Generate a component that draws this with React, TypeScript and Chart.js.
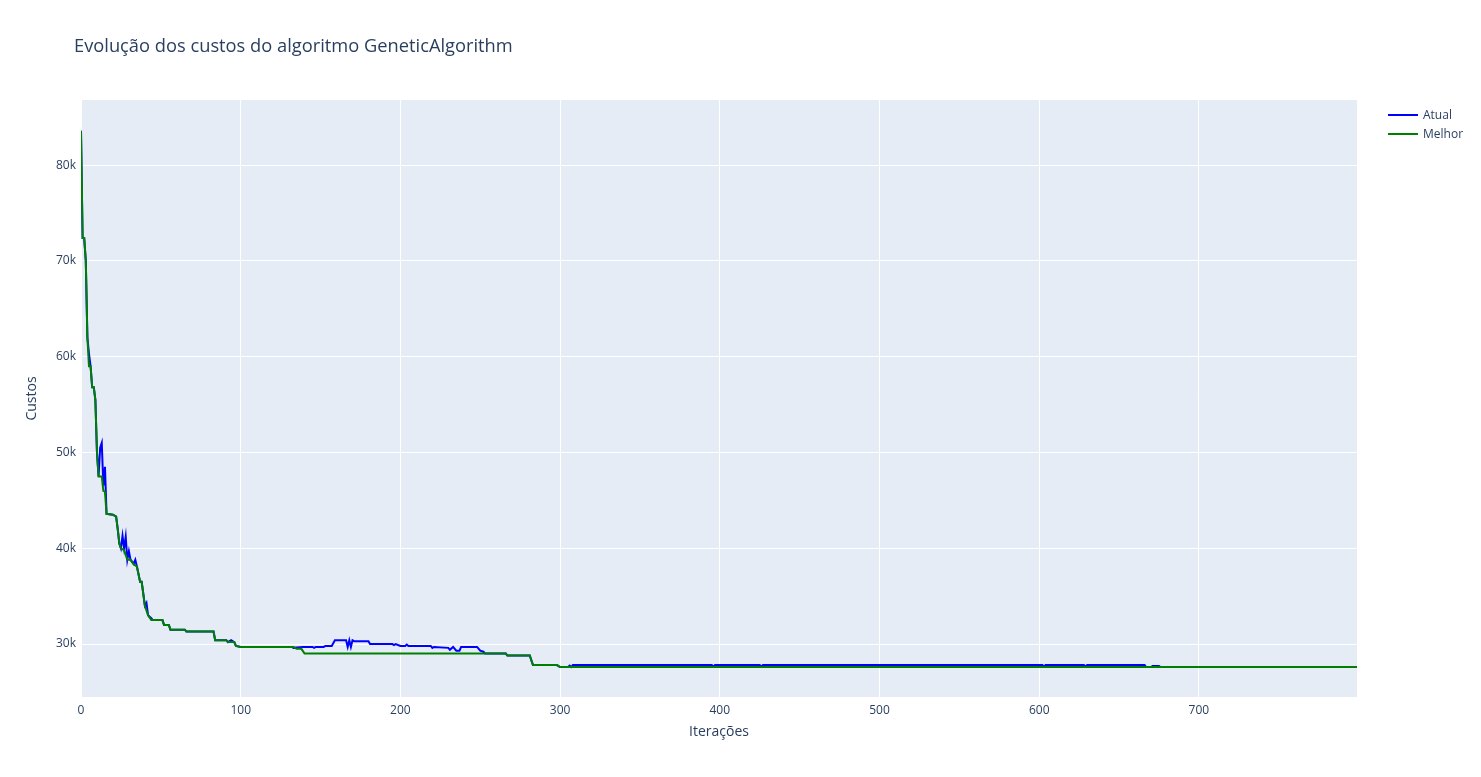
import { useEffect, useRef } from 'react';
import { Chart, registerables } from 'chart.js';

Chart.register(...registerables);

// Atual: iteration / cost breakpoints
const atualIter = [0, 1, 2, 3, 4, 5, 6, 7, 8, 9, 10, 11, 12, 13, 14, 15, 16, 20, 22, 23, 24, 25, 26, 27, 28, 29, 30, 31, 33, 34, 35, 37, 38, 40, 41, 42, 44, 45, 51, 52, 55, 56, 65, 66, 83, 84, 91, 92, 94, 96, 97, 100, 132, 133, 139, 140, 145, 146, 147, 152, 153, 157, 159, 166, 167, 168, 169, 170, 171, 180, 181, 185, 186, 195, 196, 197, 200, 203, 204, 205, 219, 220, 221, 230, 231, 233, 235, 237, 238, 248, 250, 252, 253, 266, 267, 281, 283, 298, 300, 305, 306, 307, 308, 395, 396, 397, 425, 426, 427, 602, 603, 604, 628, 629, 630, 666, 667, 670, 671, 675, 676, 799];
const atualCost = [83600, 72400, 72400, 70000, 62000, 60300, 59000, 56800, 56800, 55500, 50000, 47500, 50500, 51000, 46500, 48500, 43600, 43500, 43300, 42000, 40500, 40000, 41300, 40000, 41200, 38800, 39700, 38800, 38400, 38800, 38100, 36500, 36500, 34000, 34300, 33000, 32700, 32500, 32500, 32000, 32000, 31500, 31500, 31300, 31300, 30400, 30400, 30200, 30400, 30200, 29800, 29700, 29700, 29600, 29700, 29700, 29700, 29600, 29700, 29700, 29800, 29800, 30400, 30400, 29700, 30400, 29700, 30400, 30300, 30300, 30000, 30000, 30000, 30000, 29900, 30000, 29800, 29800, 29950, 29800, 29800, 29600, 29700, 29600, 29400, 29700, 29300, 29300, 29700, 29700, 29300, 29200, 29000, 29000, 28800, 28800, 27800, 27800, 27600, 27600, 27750, 27600, 27800, 27800, 27650, 27800, 27800, 27650, 27800, 27800, 27650, 27800, 27800, 27650, 27800, 27800, 27600, 27600, 27700, 27700, 27600, 27600];

// Melhor: best cost so far
const melhorIter = [0, 1, 2, 3, 4, 5, 6, 7, 8, 9, 10, 11, 12, 13, 14, 15, 16, 20, 22, 23, 24, 25, 27, 29, 31, 33, 35, 37, 38, 40, 42, 44, 46, 51, 52, 55, 56, 65, 66, 83, 84, 91, 92, 96, 97, 100, 133, 135, 138, 140, 266, 267, 281, 283, 298, 300, 799];
const melhorCost = [83600, 72400, 72400, 70000, 62000, 59000, 59000, 56800, 56800, 55500, 50000, 47500, 47500, 47500, 46000, 45900, 43600, 43500, 43300, 42000, 40500, 40000, 39800, 38800, 38800, 38300, 38100, 36500, 36500, 34000, 33000, 32500, 32500, 32500, 32000, 32000, 31500, 31500, 31300, 31300, 30400, 30400, 30200, 30200, 29800, 29700, 29700, 29500, 29500, 29000, 29000, 28800, 28800, 27800, 27800, 27600, 27600];

const xTicks = [0, 100, 200, 300, 400, 500, 600, 700];
const yTicks = [30000, 40000, 50000, 60000, 70000, 80000];

const ink = '#2a3f5f';
const font = '"Open Sans", "Liberation Sans", Arial, sans-serif';

const plotBg = {
  id: 'plotBg',
  beforeDraw(chart: any) {
    const { ctx, chartArea } = chart;
    ctx.save();
    ctx.fillStyle = '#E5ECF6';
    ctx.fillRect(chartArea.left, chartArea.top, chartArea.width, chartArea.height);
    ctx.restore();
  },
};

export default function App() {
  const chartRef = useRef<HTMLCanvasElement>(null);
  const chartInstance = useRef<Chart | null>(null);

  useEffect(() => {
    if (!chartRef.current) return;
    if (chartInstance.current) chartInstance.current.destroy();

    chartInstance.current = new Chart(chartRef.current, {
      type: 'line',
      data: {
        datasets: [
          {
            label: 'Melhor',
            data: melhorIter.map((x, i) => ({ x, y: melhorCost[i] })),
            borderColor: '#008000',
            borderWidth: 2,
            pointRadius: 0,
            tension: 0,
          },
          {
            label: 'Atual',
            data: atualIter.map((x, i) => ({ x, y: atualCost[i] })),
            borderColor: '#0000ff',
            borderWidth: 2,
            pointRadius: 0,
            tension: 0,
          },
        ],
      },
      options: {
        animation: false,
        responsive: false,
        layout: { padding: { left: 0, right: 124, top: 100, bottom: 0 } },
        plugins: { legend: { display: false }, tooltip: { enabled: false } },
        scales: {
          x: {
            type: 'linear',
            min: 0,
            max: 799,
            afterBuildTicks: (s: any) => { s.ticks = xTicks.map(v => ({ value: v })); },
            afterFit: (s: any) => { s.height = 80; },
            grid: { color: '#ffffff', lineWidth: 1, drawTicks: false },
            border: { display: false },
            ticks: { color: ink, font: { family: font, size: 12 }, padding: 6 },
            title: { display: true, text: 'Iterações', color: ink, font: { family: font, size: 14 }, padding: { top: 0, bottom: 37 } },
          },
          y: {
            min: 24470,
            max: 86800,
            afterBuildTicks: (s: any) => { s.ticks = yTicks.map(v => ({ value: v })); },
            afterFit: (s: any) => { s.width = 81; },
            grid: { color: '#ffffff', lineWidth: 1, drawTicks: false },
            border: { display: false },
            ticks: { color: ink, font: { family: font, size: 12 }, padding: 5, callback: (v: any) => Number(v) / 1000 + 'k' },
            title: { display: true, text: 'Custos', color: ink, font: { family: font, size: 14 }, padding: { top: 24, bottom: 0 } },
          },
        },
      },
      plugins: [plotBg],
    });

    return () => {
      if (chartInstance.current) chartInstance.current.destroy();
    };
  }, []);

  const legendItem = (label: string, color: string, top: number) => (
    <div style={{ position: 'absolute', left: 1388, top, display: 'flex', alignItems: 'center', fontSize: 12, color: ink }}>
      <span style={{ width: 30, height: 2, background: color, display: 'inline-block', marginRight: 5 }} />
      {label}
    </div>
  );

  return (
    <div style={{ position: 'fixed', left: 0, top: 0, width: 1481, height: 777, background: '#fff', fontFamily: font }}>
      <canvas ref={chartRef} width={1481} height={777} style={{ position: 'absolute', left: 0, top: 0 }} />
      <div style={{ position: 'absolute', left: 74, top: 32, fontSize: 18.3, color: ink }}>
        Evolução dos custos do algoritmo GeneticAlgorithm
      </div>
      {legendItem('Atual', '#0000ff', 106)}
      {legendItem('Melhor', '#008000', 125)}
    </div>
  );
}
